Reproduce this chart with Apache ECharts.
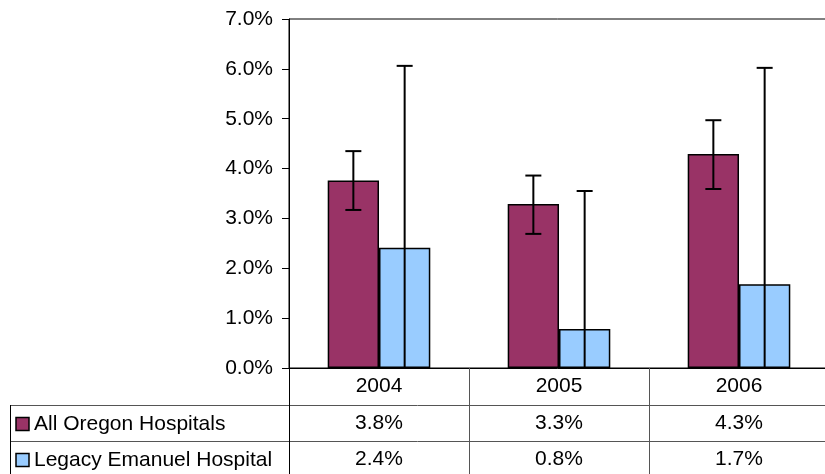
<!DOCTYPE html>
<html><head><meta charset="utf-8">
<script src="https://cdn.jsdelivr.net/npm/echarts@6/dist/echarts.min.js"></script>
<style>html,body{margin:0;padding:0;background:#fff}#c{width:825px;height:474px}</style>
</head><body><div id="c"></div>
<script>
var categories = ['2004', '2005', '2006'];
var seriesNames = ['All Oregon Hospitals', 'Legacy Emanuel Hospital'];
var oregonValues = [3.76, 3.29, 4.29];
var oregonLow = [3.17, 2.69, 3.59];
var oregonHigh = [4.35, 3.86, 4.97];
var legacyValues = [2.41, 0.78, 1.68];
var legacyLow = [0, 0, 0];
var legacyHigh = [6.06, 3.55, 6.02];
var yTicks = [0, 1, 2, 3, 4, 5, 6, 7];

var colors = ['#993366', '#99CCFF'];
var FONT = 'Liberation Sans, Arial, sans-serif';
var FS = 21;
var BARFRAC = 0.285;

function errSeries(idx, low, high) {
  var data = categories.map(function (c, i) { return [i, low[i], high[i]]; });
  return {
    type: 'custom', z: 10, silent: true,
    data: data,
    renderItem: function (params, api) {
      var i = api.value(0);
      var pLo = api.coord([i, api.value(1)]);
      var pHi = api.coord([i, api.value(2)]);
      var cw = api.size([1, 0])[0];
      var bw = cw * BARFRAC;
      var x = pLo[0] + (idx === 0 ? -bw / 2 : bw / 2);
      var cap = 8;
      var st = { stroke: '#000', lineWidth: 2 };
      var ch = [
        { type: 'line', shape: { x1: x, y1: pLo[1], x2: x, y2: pHi[1] }, style: st },
        { type: 'line', shape: { x1: x - cap, y1: pHi[1], x2: x + cap, y2: pHi[1] }, style: st }
      ];
      if (api.value(1) > 0) {
        ch.push({ type: 'line', shape: { x1: x - cap, y1: pLo[1], x2: x + cap, y2: pLo[1] }, style: st });
      }
      return { type: 'group', children: ch };
    }
  };
}

var chart = echarts.init(document.getElementById('c'), null, { renderer: 'canvas' });

var graphics = [];
[405, 441].forEach(function (y) {
  graphics.push({ type: 'line', shape: { x1: 10, y1: y + 0.5, x2: 825, y2: y + 0.5 }, style: { stroke: '#555', lineWidth: 1 }, z: 5 });
});
graphics.push({ type: 'line', shape: { x1: 10.5, y1: 405, x2: 10.5, y2: 474 }, style: { stroke: '#000', lineWidth: 1 }, z: 5 });
graphics.push({ type: 'line', shape: { x1: 289.5, y1: 368, x2: 289.5, y2: 474 }, style: { stroke: '#000', lineWidth: 1 }, z: 5 });
seriesNames.forEach(function (n, k) {
  var cy = 424 + k * 36;
  graphics.push({ type: 'rect', shape: { x: 16, y: cy - 6.5, width: 13, height: 13 }, style: { fill: colors[k], stroke: '#000', lineWidth: 1.5 }, z: 6 });
  graphics.push({ type: 'text', x: 34, y: cy, style: { text: n, font: FS + 'px ' + FONT, fill: '#000', verticalAlign: 'middle' }, z: 6 });
});

chart.setOption({
  animation: false,
  grid: { left: 289, top: 19, width: 540, height: 349, outerBoundsMode: 'none', containLabel: false, show: true, borderColor: '#000', borderWidth: 1, backgroundColor: 'transparent' },
  xAxis: {
    type: 'category', data: categories,
    axisLine: { lineStyle: { color: '#000', width: 1 } },
    axisTick: { show: true, length: 106, lineStyle: { color: '#555' } },
    axisLabel: {
      margin: 0, fontFamily: FONT, fontSize: FS, color: '#000', lineHeight: 36.5,
      formatter: function (v, i) {
        return v + '\n' + oregonValues[i].toFixed(1) + '%\n' + legacyValues[i].toFixed(1) + '%';
      }
    }
  },
  yAxis: {
    type: 'value', min: 0, max: 7, interval: 1,
    axisLine: { show: true, lineStyle: { color: '#000', width: 1 } },
    axisTick: { show: true, length: 7, lineStyle: { color: '#000' } },
    splitLine: { show: false },
    axisLabel: { fontFamily: FONT, fontSize: FS, color: '#000', margin: 16, formatter: function (v) { return v.toFixed(1) + '%'; } }
  },
  series: [
    { name: seriesNames[0], type: 'bar', data: oregonValues, barWidth: (BARFRAC * 100) + '%', barGap: '0%', itemStyle: { color: colors[0], borderColor: '#000', borderWidth: 1.5 } },
    { name: seriesNames[1], type: 'bar', data: legacyValues, barWidth: (BARFRAC * 100) + '%', barGap: '0%', itemStyle: { color: colors[1], borderColor: '#000', borderWidth: 1.5 } },
    errSeries(0, oregonLow, oregonHigh),
    errSeries(1, legacyLow, legacyHigh)
  ],
  graphic: graphics
});
</script></body></html>
